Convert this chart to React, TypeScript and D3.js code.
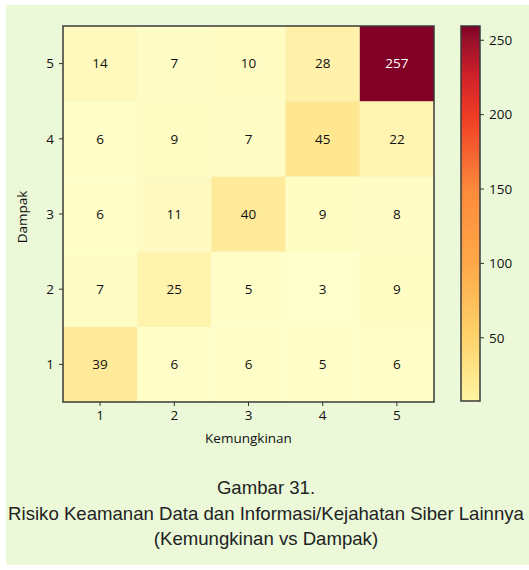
import React from "react";
import * as d3 from "d3";

const kemungkinan = ["1", "2", "3", "4", "5"];
const dampak = ["1", "2", "3", "4", "5"];
// values[dampakIndex][kemungkinanIndex]
const values: number[][] = [
  [39, 6, 6, 5, 6],
  [7, 25, 5, 3, 9],
  [6, 11, 40, 9, 8],
  [6, 9, 7, 45, 22],
  [14, 7, 10, 28, 257],
];
const colorbarTicks = [50, 100, 150, 200, 250];
const colorbarDomain = [7.5, 259.6];
const captionLines = [
  "Gambar 31.",
  "Risiko Keamanan Data dan Informasi/Kejahatan Siber Lainnya",
  "(Kemungkinan vs Dampak)",
];

// matplotlib-style YlOrRd (piecewise linear)
const ylOrRd = ["#ffffcc", "#ffeda0", "#fed976", "#feb24c", "#fd8d3c", "#fc4e2a", "#e31a1c", "#bd0026", "#800026"];
// colorbar gradient as it appears in the picture
const colorbarStops: [number, string][] = [
  [7.5, "#fff5a2"],
  [50, "#fed36c"],
  [100, "#fea848"],
  [150, "#fd8a3c"],
  [200, "#ee3b24"],
  [225, "#d1222a"],
  [250, "#98102a"],
  [259.6, "#800026"],
];

const W = 529;
const H = 570;
const plot = { left: 63, right: 434, top: 26, bottom: 402 };
const cb = { left: 461, right: 480, top: 26, bottom: 401 };
const tickFont = "'Open Sans', sans-serif";
const fs = 13.5;

export default function App() {
  const x = d3.scaleBand().domain(kemungkinan).range([plot.left, plot.right]);
  const y = d3.scaleBand().domain(dampak).range([plot.bottom, plot.top]);
  const allVals = values.flat();
  const interp = d3.piecewise(d3.interpolateRgb, ylOrRd);
  const color = d3
    .scaleSequential(interp)
    .domain([d3.min(allVals)!, d3.max(allVals)!]);
  const cbScale = d3.scaleLinear().domain(colorbarDomain).range([cb.bottom, cb.top]);

  return (
    <svg
      width={W}
      height={H}
      style={{ position: "absolute", left: 0, top: 0 }}
      xmlns="http://www.w3.org/2000/svg"
    >
      <defs>
        <linearGradient id="cbgrad" x1="0" y1="1" x2="0" y2="0">
          {colorbarStops.map(([v, c]) => (
            <stop
              key={v}
              offset={(v - colorbarDomain[0]) / (colorbarDomain[1] - colorbarDomain[0])}
              stopColor={c}
            />
          ))}
        </linearGradient>
      </defs>
      <rect x={0} y={0} width={W} height={H} fill="#ffffff" />
      <rect x={6} y={5} width={W - 6} height={560} fill="#ebf9d9" />

      {values.map((row, ri) =>
        row.map((v, ci) => {
          const cx = x(kemungkinan[ci])!;
          const cy = y(dampak[ri])!;
          return (
            <g key={`${ri}-${ci}`}>
              <rect
                x={cx}
                y={cy}
                width={x.bandwidth()}
                height={y.bandwidth()}
                fill={color(v)}
              />
              <text
                x={cx + x.bandwidth() / 2}
                y={cy + y.bandwidth() / 2}
                dy="0.35em"
                textAnchor="middle"
                fontFamily={tickFont}
                fontSize={fs}
                fill={v > 150 ? "#ffffff" : "#111111"}
              >
                {v}
              </text>
            </g>
          );
        })
      )}
      <rect
        x={plot.left}
        y={plot.top}
        width={plot.right - plot.left}
        height={plot.bottom - plot.top}
        fill="none"
        stroke="#3a3a3a"
        strokeWidth={1.5}
      />

      {kemungkinan.map((k) => {
        const cx = x(k)! + x.bandwidth() / 2;
        return (
          <g key={`xt${k}`}>
            <line x1={cx} x2={cx} y1={plot.bottom} y2={plot.bottom + 4} stroke="#333" />
            <text
              x={cx}
              y={plot.bottom + 13}
              dy="0.35em"
              textAnchor="middle"
              fontFamily={tickFont}
              fontSize={fs}
              fill="#111"
            >
              {k}
            </text>
          </g>
        );
      })}
      {dampak.map((d) => {
        const cy = y(d)! + y.bandwidth() / 2;
        return (
          <g key={`yt${d}`}>
            <line x1={plot.left - 4} x2={plot.left} y1={cy} y2={cy} stroke="#333" />
            <text
              x={plot.left - 9}
              y={cy}
              dy="0.35em"
              textAnchor="end"
              fontFamily={tickFont}
              fontSize={fs}
              fill="#111"
            >
              {d}
            </text>
          </g>
        );
      })}
      <text
        x={(plot.left + plot.right) / 2}
        y={438}
        dy="0.35em"
        textAnchor="middle"
        fontFamily={tickFont}
        fontSize={fs}
        fill="#111"
      >
        Kemungkinan
      </text>
      <text
        transform={`translate(22,217) rotate(-90)`}
        dy="0.35em"
        textAnchor="middle"
        fontFamily={tickFont}
        fontSize={fs}
        fill="#111"
      >
        Dampak
      </text>

      <rect
        x={cb.left}
        y={cb.top}
        width={cb.right - cb.left}
        height={cb.bottom - cb.top}
        fill="url(#cbgrad)"
        stroke="#3a3a3a"
        strokeWidth={1.5}
      />
      {colorbarTicks.map((t) => {
        const ty = cbScale(t);
        return (
          <g key={`cb${t}`}>
            <line x1={cb.right} x2={cb.right + 4} y1={ty} y2={ty} stroke="#333" />
            <text
              x={cb.right + 9}
              y={ty}
              dy="0.35em"
              fontFamily={tickFont}
              fontSize={fs}
              fill="#111"
            >
              {t}
            </text>
          </g>
        );
      })}

      {captionLines.map((line, i) => (
        <text
          key={i}
          x={266}
          y={494 + i * 25.5}
          textAnchor="middle"
          fontFamily="'Liberation Sans', Arial, sans-serif"
          fontSize={18.6}
          fill="#222"
        >
          {line}
        </text>
      ))}
    </svg>
  );
}
